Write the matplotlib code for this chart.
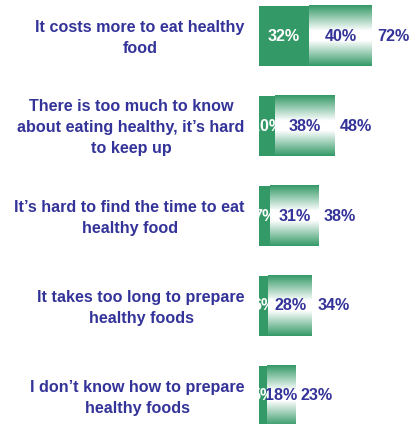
import numpy as np
import matplotlib
matplotlib.use("Agg")
import matplotlib.pyplot as plt
from matplotlib.colors import LinearSegmentedColormap

categories = [
    "It costs more to eat healthy\nfood",
    "There is too much to know\nabout eating healthy, it\u2019s hard\nto keep up",
    "It\u2019s hard to find the time to eat\nhealthy food",
    "It takes too long to prepare\nhealthy foods",
    "I don\u2019t know how to prepare\nhealthy foods",
]
first_vals = [32, 10, 7, 6, 5]
second_vals = [40, 38, 31, 28, 18]
totals = [72, 48, 38, 34, 23]

GREEN = "#339966"
TEXT = "#333399"
plt.rcParams['font.family'] = ['Liberation Sans', 'DejaVu Sans']

fig = plt.figure(figsize=(4.10, 4.24), dpi=100)
ax = fig.add_axes([0, 0, 1, 1])
ppu = 1.57
ax.set_xlim(-259 / ppu, (410 - 259) / ppu)
ax.set_ylim((424 - 36) / 90, -36 / 90)
ax.axis('off')

cmap = LinearSegmentedColormap.from_list(
    "g", [(0.0, GREEN), (0.42, "white"), (0.58, "white"), (1.0, GREEN)])
grad = np.linspace(0, 1, 256).reshape(-1, 1)
h = 0.667
fs = 11.6
for i, (a, b, t, lab) in enumerate(zip(first_vals, second_vals, totals, categories)):
    ax.barh(i, a, height=h, color=GREEN, left=0, zorder=2)
    ax.imshow(grad, cmap=cmap, aspect='auto', extent=[a, a + b, i + h / 2, i - h / 2],
              zorder=2, interpolation='bilinear')
    ax.text(a / 2, i, f"{a}%", color="white", fontsize=fs, fontweight='bold',
            ha='center', va='center', zorder=3)
    ax.text(a + b / 2, i, f"{b}%", color=TEXT, fontsize=fs, fontweight='bold',
            ha='center', va='center', zorder=3)
    ax.text(a + b + 3.2, i, f"{t}%", color=TEXT, fontsize=fs, fontweight='bold',
            ha='left', va='center', zorder=3)
    ax.text(-9, i + 0.02, lab, color=TEXT, fontsize=fs, fontweight='bold',
            ha='right', va='center', multialignment='center', linespacing=1.5)

ax.set_xlim(-259 / ppu, (410 - 259) / ppu)
ax.set_ylim((424 - 36) / 90, -36 / 90)
fig.savefig("out.png", dpi=100)
